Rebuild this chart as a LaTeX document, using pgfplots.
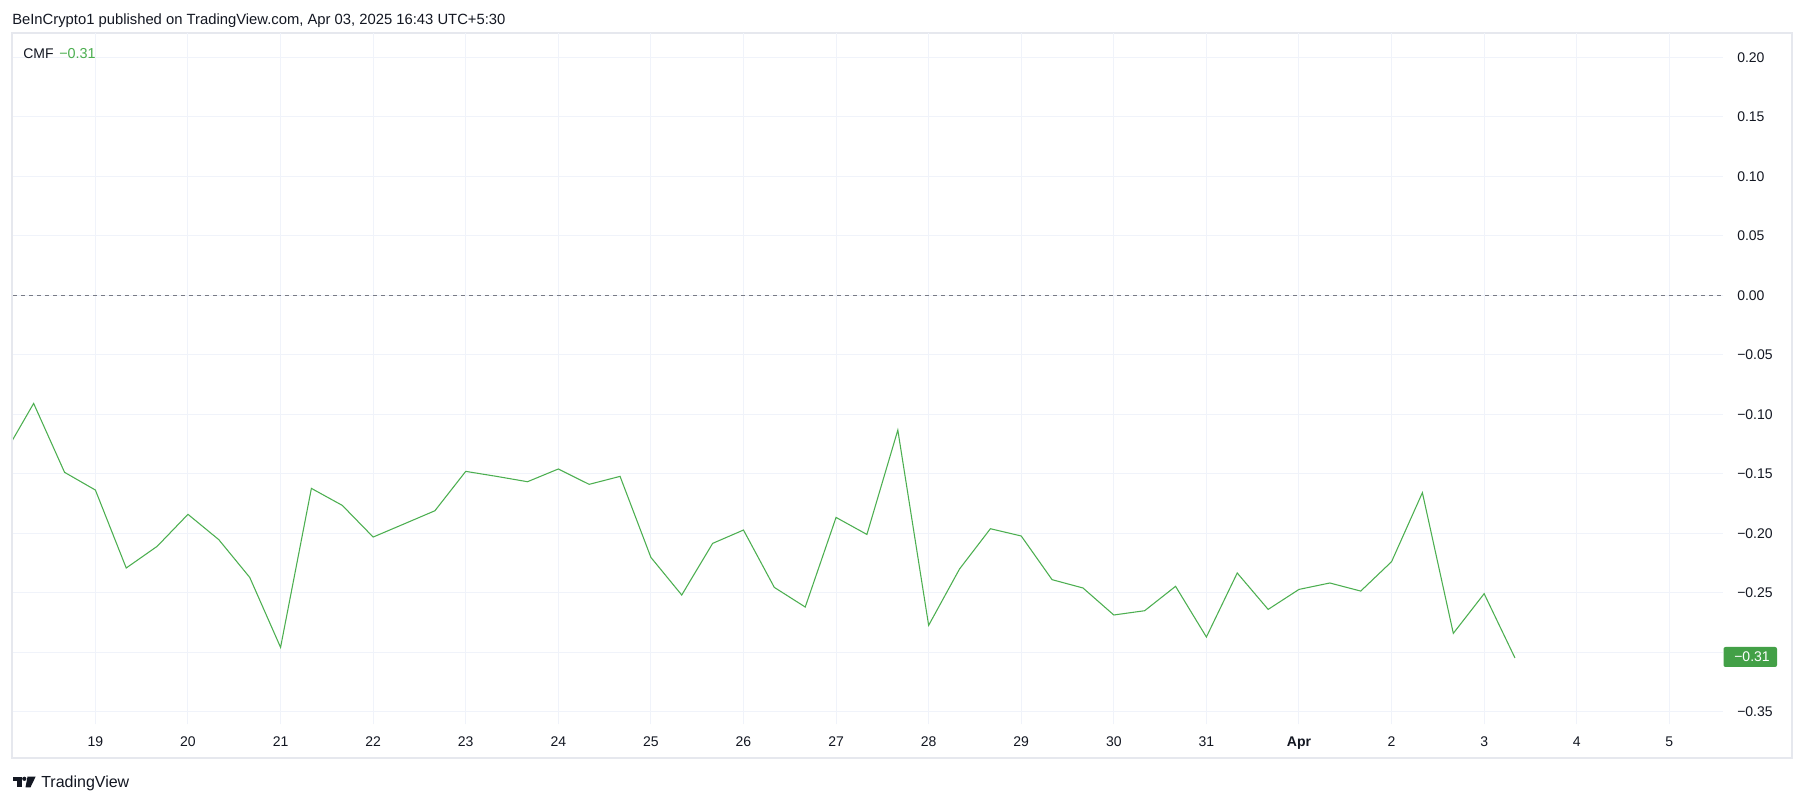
\documentclass[border=0pt]{standalone}
\usepackage{pgfplots}
\pgfplotsset{compat=1.18}
\usepackage{pgfplotstable}
\usepackage{fontspec}
\setmainfont{Liberation Sans}

\definecolor{tvgreen}{HTML}{4CAF50}
\definecolor{tvbox}{HTML}{43A047}
\definecolor{tvgrid}{HTML}{F0F3FA}
\definecolor{tvframe}{HTML}{E6E8EE}
\definecolor{tvtext}{HTML}{131722}
\definecolor{tvzero}{HTML}{787B86}

% CMF, one value every 8 hours; x = day (Apr 1 = 32)
\pgfplotstableread{
day cmf
18.000 -0.136
18.333 -0.0911
18.667 -0.149
19.000 -0.1639
19.333 -0.2294
19.667 -0.2112
20.000 -0.1843
20.333 -0.2056
20.667 -0.2373
21.000 -0.2961
21.333 -0.1625
21.667 -0.1768
22.000 -0.2034
22.333 -0.1924
22.667 -0.1813
23.000 -0.1482
23.333 -0.1524
23.667 -0.1569
24.000 -0.1462
24.333 -0.1591
24.667 -0.1524
25.000 -0.2205
25.333 -0.2521
25.667 -0.2087
26.000 -0.1975
26.333 -0.2457
26.667 -0.2622
27.000 -0.1869
27.333 -0.2012
27.667 -0.1135
28.000 -0.2776
28.333 -0.2303
28.667 -0.1964
29.000 -0.2025
29.333 -0.2392
29.667 -0.2462
30.000 -0.2689
30.333 -0.2653
30.667 -0.2448
31.000 -0.2874
31.333 -0.2336
31.667 -0.2642
32.000 -0.2474
32.333 -0.2420
32.667 -0.2488
33.000 -0.2241
33.333 -0.1661
33.667 -0.2843
34.000 -0.2510
34.333 -0.3050
}\cmfdata

\begin{document}
\begin{tikzpicture}[x=0.75pt,y=0.75pt]
\useasboundingbox (0,0) rectangle (1805,803);
\fill[white] (0,0) rectangle (1805,803);
\draw[tvframe, line width=1.2pt] (12,45) rectangle (1792,770);

\begin{axis}[
  at={(9.75pt,59.25pt)}, anchor=south west,
  scale only axis, width=1282.5pt, height=518.25pt,
  xmin=18.11, xmax=36.58, ymin=-0.3605, ymax=0.2202,
  axis line style={draw=none},
  major tick length=0pt,
  grid=major,
  grid style={tvgrid, line width=0.75pt},
  xtick={19,20,21,22,23,24,25,26,27,28,29,30,31,32,33,34,35,36},
  xticklabels={19,20,21,22,23,24,25,26,27,28,29,30,31,\textbf{Apr},2,3,4,5},
  ytick={-0.35,-0.30,-0.25,-0.20,-0.15,-0.10,-0.05,0,0.05,0.10,0.15,0.20},
  yticklabels={−0.35,−0.30,−0.25,−0.20,−0.15,−0.10,−0.05,0.00,0.05,0.10,0.15,0.20},
  yticklabel pos=right,
  xticklabel style={font=\fontsize{10.5}{12}\selectfont, text=tvtext, anchor=base, yshift=-17pt},
  yticklabel style={font=\fontsize{10.5}{12}\selectfont, text=tvtext, anchor=base west, inner sep=0pt, xshift=10.5pt, yshift=-3.75pt},
]
\addplot[tvzero, line width=0.75pt, dash pattern=on 3pt off 3pt] coordinates {(18.11,0) (36.58,0)};
\addplot[tvgreen, line width=0.8pt] table[x=day, y=cmf] {\cmfdata};
\end{axis}

% last value label on the price scale
\fill[tvbox, rounded corners=1.5pt] (1723.5,136) rectangle (1777,156);
\node[anchor=base west, inner sep=0pt, text=white, font=\fontsize{10.5}{12}\selectfont] at (1734,141) {−0.31};

% header and legend
\node[anchor=base west, inner sep=0pt, text=tvtext, font=\fontsize{11.1}{13}\selectfont] at (12,778) {BeInCrypto1 published on TradingView.com, Apr 03, 2025 16:43 UTC+5:30};
\node[anchor=base west, inner sep=0pt, text=tvtext, font=\fontsize{10.5}{12}\selectfont] at (23,744) {CMF};
\node[anchor=base west, inner sep=0pt, text=tvgreen, font=\fontsize{10.8}{12}\selectfont] at (59,744) {−0.31};

% footer logo
\fill[tvtext] (12.6,26.3) rectangle (21.5,22.3);
\fill[tvtext] (17,22.3) rectangle (21.5,15.7);
\fill[tvtext] (24.3,24.2) circle (2.1);
\fill[tvtext] (27.5,26.3) -- (35.6,26.3) -- (30.5,15.7) -- (25.5,15.7) -- cycle;
\node[anchor=base west, inner sep=0pt, text=tvtext, font=\fontsize{12}{14}\selectfont] at (41,16) {TradingView};
\end{tikzpicture}
\end{document}
